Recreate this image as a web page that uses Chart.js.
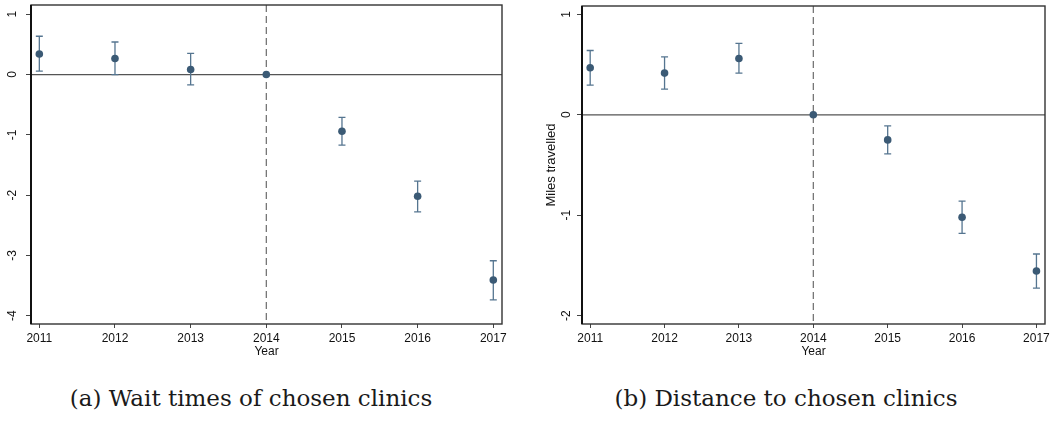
<!DOCTYPE html>
<html>
<head>
<meta charset="utf-8">
<script src="https://cdn.jsdelivr.net/npm/chart.js@4.4.1/dist/chart.umd.min.js"></script>
<style>
  html, body { margin: 0; padding: 0; background: #fff; }
  body { width: 1054px; height: 422px; position: relative; overflow: hidden; }
  .panel { position: absolute; top: 0; width: 527px; height: 362px; }
  .cap {
    position: absolute; top: 385px; white-space: nowrap; color: #1a1a1a;
    font-family: "DejaVu Serif", "Liberation Serif", serif; font-size: 23px;
    transform: translateX(-50%);
  }
</style>
</head>
<body>
<div class="panel" style="left:0"><canvas id="waitChart" width="527" height="362"></canvas></div>
<div class="panel" style="left:527px"><canvas id="distChart" width="527" height="362"></canvas></div>
<div class="cap" style="left:251px">(a) Wait times of chosen clinics</div>
<div class="cap" style="left:786px">(b) Distance to chosen clinics</div>

<script>
// event-study coefficients, 2014 is the omitted base year
var years = [2011, 2012, 2013, 2014, 2015, 2016, 2017];

var waitEst = [0.34, 0.265, 0.083, 0, -0.94, -2.02, -3.41];
var waitLo  = [0.055, 0.0, -0.17, 0, -1.17, -2.28, -3.74];
var waitHi  = [0.635, 0.54, 0.35, 0, -0.71, -1.77, -3.09];
var waitTicks = [1, 0, -1, -2, -3, -4];

var distEst = [0.468, 0.415, 0.56, 0, -0.25, -1.02, -1.555];
var distLo  = [0.295, 0.256, 0.415, 0, -0.39, -1.18, -1.725];
var distHi  = [0.64, 0.577, 0.71, 0, -0.11, -0.86, -1.386];
var distTicks = [1, 0, -1, -2];

var baseYear = 2014;
var dotColor = '#3b5a75';
var barColor = '#557590';
var sans = '"Liberation Sans", Arial, sans-serif';

// reference lines + confidence intervals under the dots, frame and rotated y labels on top
var eventStudyPlugin = {
    id: 'eventStudy',
    beforeDatasetsDraw: function (chart, args, opts) {
        var ctx = chart.ctx, a = chart.chartArea;
        var xs = chart.scales.x, ys = chart.scales.y;
        ctx.save();
        // zero line
        var y0 = ys.getPixelForValue(0);
        ctx.strokeStyle = '#555'; ctx.lineWidth = 1.2;
        ctx.beginPath(); ctx.moveTo(a.left, y0); ctx.lineTo(a.right, y0); ctx.stroke();
        // policy year
        var xb = xs.getPixelForValue(baseYear);
        ctx.strokeStyle = '#6b6b6b'; ctx.lineWidth = 1.2; ctx.setLineDash([7, 4]);
        ctx.beginPath(); ctx.moveTo(xb, a.top); ctx.lineTo(xb, a.bottom); ctx.stroke();
        ctx.setLineDash([]);
        // CI whiskers
        ctx.strokeStyle = barColor; ctx.lineWidth = 1.3;
        for (var i = 0; i < years.length; i++) {
            if (opts.lo[i] === opts.hi[i]) continue;
            var x = xs.getPixelForValue(years[i]);
            var yl = ys.getPixelForValue(opts.lo[i]), yh = ys.getPixelForValue(opts.hi[i]);
            ctx.beginPath();
            ctx.moveTo(x, yl); ctx.lineTo(x, yh);
            ctx.moveTo(x - 3.5, yl); ctx.lineTo(x + 3.5, yl);
            ctx.moveTo(x - 3.5, yh); ctx.lineTo(x + 3.5, yh);
            ctx.stroke();
        }
        ctx.restore();
    },
    afterDraw: function (chart, args, opts) {
        var ctx = chart.ctx, a = chart.chartArea, ys = chart.scales.y;
        ctx.save();
        ctx.strokeStyle = '#333'; ctx.lineWidth = 1.4;
        ctx.strokeRect(a.left, a.top, a.right - a.left, a.bottom - a.top);
        ctx.strokeStyle = '#111'; ctx.lineWidth = 2;
        ctx.beginPath(); ctx.moveTo(a.left, a.top); ctx.lineTo(a.left, a.bottom); ctx.stroke();
        ctx.fillStyle = '#111';
        ctx.font = '12px ' + sans;
        ctx.textAlign = 'center'; ctx.textBaseline = 'middle';
        opts.ticks.forEach(function (v) {
            ctx.save();
            ctx.translate(opts.labelX, ys.getPixelForValue(v));
            ctx.rotate(-Math.PI / 2);
            ctx.fillText(String(v), 0, 0);
            ctx.restore();
        });
        ctx.restore();
    }
};

function noPad(s) { s.paddingTop = 0; s.paddingBottom = 0; s.paddingLeft = 0; s.paddingRight = 0; }

function makePanel(id, est, lo, hi, yMin, yMax, yTicks, yTitle, box) {
    new Chart(document.getElementById(id), {
        type: 'scatter',
        data: {
            datasets: [{
                data: years.map(function (yr, i) { return { x: yr, y: est[i] }; }),
                backgroundColor: dotColor, borderColor: dotColor, borderWidth: 0,
                pointRadius: 3.8, pointHoverRadius: 3.8
            }]
        },
        options: {
            responsive: false, animation: false, events: [],
            layout: { padding: { top: box.top, right: box.right, left: 0, bottom: 0 } },
            plugins: {
                legend: { display: false }, tooltip: { enabled: false },
                eventStudy: { lo: lo, hi: hi, ticks: yTicks, labelX: box.labelX }
            },
            scales: {
                x: {
                    type: 'linear', min: 2010.89, max: 2017.115,
                    afterBuildTicks: function (s) { s.ticks = years.map(function (v) { return { value: v }; }); },
                    afterFit: function (s) { s.height = 362 - box.bottom; noPad(s); },
                    grid: { drawOnChartArea: false, tickLength: 4, color: '#444', lineWidth: 1 },
                    border: { display: false },
                    ticks: { color: '#111', font: { family: sans, size: 12 }, padding: 3, maxRotation: 0,
                             callback: function (v) { return String(v); } },
                    title: { display: true, text: 'Year', color: '#111', font: { family: sans, size: 12 },
                             padding: { top: 0, bottom: 3 } }
                },
                y: {
                    min: yMin, max: yMax,
                    afterBuildTicks: function (s) { s.ticks = yTicks.map(function (v) { return { value: v }; }); },
                    afterFit: function (s) { s.width = box.left; noPad(s); },
                    grid: { drawOnChartArea: false, tickLength: 5, color: '#444', lineWidth: 1 },
                    border: { display: false },
                    ticks: { color: 'rgba(0,0,0,0)', font: { family: sans, size: 12 } },
                    title: { display: !!yTitle, text: yTitle, color: '#111', font: { family: sans, size: 13 },
                             padding: { top: 17, bottom: 0 } }
                }
            }
        },
        plugins: [eventStudyPlugin]
    });
}

makePanel('waitChart', waitEst, waitLo, waitHi, -4.14, 1.154, waitTicks, '',
          { left: 31, top: 5, right: 25, bottom: 324, labelX: 13 });
makePanel('distChart', distEst, distLo, distHi, -2.083, 1.083, distTicks, 'Miles travelled',
          { left: 55, top: 6, right: 9, bottom: 324, labelX: 40 });
</script>
</body>
</html>
